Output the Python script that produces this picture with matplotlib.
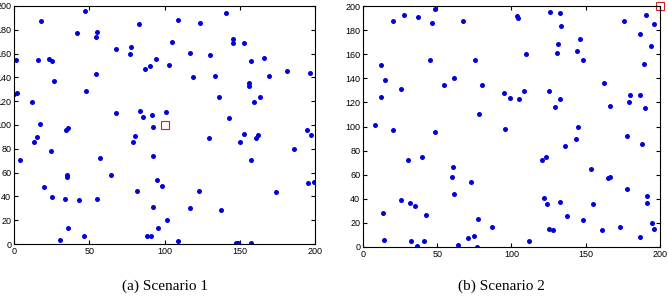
import matplotlib
matplotlib.use("Agg")
import matplotlib.pyplot as plt

# Node positions
s1_x = [47.4, 17.9, 42.1, 55.4, 54.3, 83.1, 67.6, 77.7, 77.3, 1.5,
        15.9, 23.0, 25.0, 94.4, 90.4, 86.8, 103.0, 26.6, 54.7, 0.0,
        1.8, 12.2, 47.8, 67.6, 83.5, 85.7, 91.7, 101.2, 17.6, 36.2,
        34.6, 92.2, 15.3, 13.1, 80.4, 79.3, 24.4, 4.0, 92.4, 56.9,
        64.5, 35.0, 35.0, 20.2, 94.8, 98.1, 81.9, 25.0, 33.7, 43.2,
        55.1, 92.2, 101.9, 36.1, 95.9, 30.3, 46.3, 88.2, 91.0, 108.7,
        123.6, 140.9, 105.0, 145.3, 145.3, 153.0, 116.7, 130.0, 157.7, 165.9,
        181.2, 196.7, 118.7, 133.8, 169.4, 156.1, 156.1, 136.0, 163.7, 159.5,
        142.9, 194.6, 129.6, 150.4, 153.0, 161.0, 162.1, 197.3, 186.0, 157.7,
        123.1, 195.6, 199.1, 173.9, 116.7, 137.5, 108.8, 147.5, 149.0, 157.3]
s1_y = [195.8, 187.1, 177.0, 178.2, 173.7, 185.1, 164.1, 165.5, 159.7, 154.6,
        154.6, 155.5, 154.0, 155.5, 149.3, 147.3, 150.0, 136.7, 142.6, 125.8,
        127.2, 119.6, 128.6, 110.1, 111.8, 106.7, 108.1, 110.9, 100.8, 97.7,
        96.2, 98.2, 89.7, 85.5, 90.8, 86.0, 77.9, 70.6, 73.9, 72.0,
        57.7, 57.8, 56.2, 48.2, 53.5, 48.7, 44.3, 39.2, 38.1, 36.7,
        38.1, 31.4, 20.1, 13.7, 13.7, 3.1, 6.5, 6.5, 6.5, 188.5,
        185.7, 193.9, 169.7, 172.0, 168.9, 168.9, 160.2, 158.8, 154.0, 156.0,
        145.4, 143.4, 140.6, 141.4, 141.4, 135.0, 133.0, 123.8, 123.8, 119.6,
        105.9, 96.0, 89.3, 85.7, 92.7, 89.3, 91.3, 91.3, 79.8, 70.3,
        44.3, 51.5, 52.4, 43.4, 30.5, 28.6, 2.3, 0.8, 0.8, 0.8]

s2_x = [8.3, 20.4, 20.4, 27.8, 37.3, 48.7, 46.7, 67.3, 12.1, 14.6,
        11.9, 25.6, 45.1, 54.3, 61.5, 75.6, 79.9, 77.9, 48.5, 30.3,
        39.7, 60.4, 59.7, 72.9, 61.1, 25.6, 31.6, 34.8, 13.7, 42.6,
        77.2, 86.7, 14.1, 32.1, 41.1, 36.2, 64.2, 70.9, 74.7, 76.8,
        103.5, 104.2, 126.1, 132.5, 133.1, 175.8, 190.4, 195.8, 186.7, 193.7,
        146.1, 131.5, 130.6, 144.1, 148.4, 110.0, 189.4, 162.1, 94.7, 99.0,
        104.8, 108.4, 125.3, 132.5, 129.5, 166.3, 180.0, 186.3, 179.3, 189.9,
        95.6, 144.8, 177.8, 187.9, 143.6, 136.2, 123.0, 120.3, 153.5, 164.8,
        166.1, 177.8, 121.9, 124.1, 132.5, 154.7, 191.0, 191.5, 137.4, 148.4,
        194.6, 196.2, 125.3, 127.9, 160.7, 173.1, 186.3, 111.6]
s2_y = [101.0, 97.4, 187.3, 192.5, 190.6, 197.3, 186.1, 187.3, 151.0, 138.6,
        124.5, 131.4, 154.9, 134.7, 140.5, 155.4, 134.7, 110.6, 95.2, 72.5,
        74.4, 66.7, 58.1, 53.7, 44.2, 39.3, 36.5, 34.0, 27.9, 26.8,
        23.0, 16.5, 5.5, 4.7, 4.7, 0.8, 1.7, 7.5, 9.1, 0.0,
        191.7, 189.8, 195.3, 194.4, 183.7, 187.5, 192.3, 184.8, 176.5, 166.6,
        172.6, 168.2, 161.0, 162.9, 154.9, 160.4, 151.9, 136.1, 127.8, 123.9,
        122.6, 129.2, 129.2, 122.6, 116.2, 117.3, 125.9, 125.9, 120.6, 115.4,
        98.0, 99.7, 92.1, 85.5, 89.9, 83.6, 74.9, 72.4, 64.5, 57.5,
        58.1, 48.4, 40.4, 35.9, 37.3, 35.9, 42.3, 36.8, 25.5, 22.4,
        19.6, 15.2, 15.2, 13.8, 13.8, 16.6, 8.5, 5.2]

# sink position in each scenario
sink1 = (100, 100)
sink2 = (200, 200)

captions = ["(a) Scenario 1", "(b) Scenario 2"]
x_ticks = [0, 50, 100, 150, 200]
y_ticks = list(range(0, 201, 20))


def draw_scenario(ax, xs, ys, sink):
    ax.plot(xs, ys, "o", color="#0000e0", markersize=3.6, markeredgewidth=0)
    ax.plot(sink[0], sink[1], "s", markerfacecolor="none",
            markeredgecolor="#d42020", markersize=5.5, markeredgewidth=0.8,
            clip_on=False)
    ax.set_xlim(0, 200)
    ax.set_ylim(0, 200)
    ax.set_xticks(x_ticks)
    ax.set_yticks(y_ticks)
    ax.tick_params(direction="in", length=3, width=0.8, labelsize=6.5,
                   top=True, right=True, pad=2)
    for sp in ax.spines.values():
        sp.set_linewidth(0.8)


plt.rcParams["font.family"] = ["Liberation Sans", "DejaVu Sans"]

fig = plt.figure(figsize=(6.68, 3.04), dpi=100)
ax1 = fig.add_axes([14 / 668, 60 / 304, 301 / 668, 238 / 304])
ax2 = fig.add_axes([363 / 668, 57 / 304, 297 / 668, 241 / 304])

draw_scenario(ax1, s1_x, s1_y, sink1)
draw_scenario(ax2, s2_x, s2_y, sink2)

fig.text(165 / 668, 1 - 286 / 304, captions[0], ha="center", va="center",
         fontsize=11, family="Liberation Serif")
fig.text(501 / 668, 1 - 286 / 304, captions[1], ha="center", va="center",
         fontsize=11, family="Liberation Serif")

fig.savefig("out.png", dpi=100)
